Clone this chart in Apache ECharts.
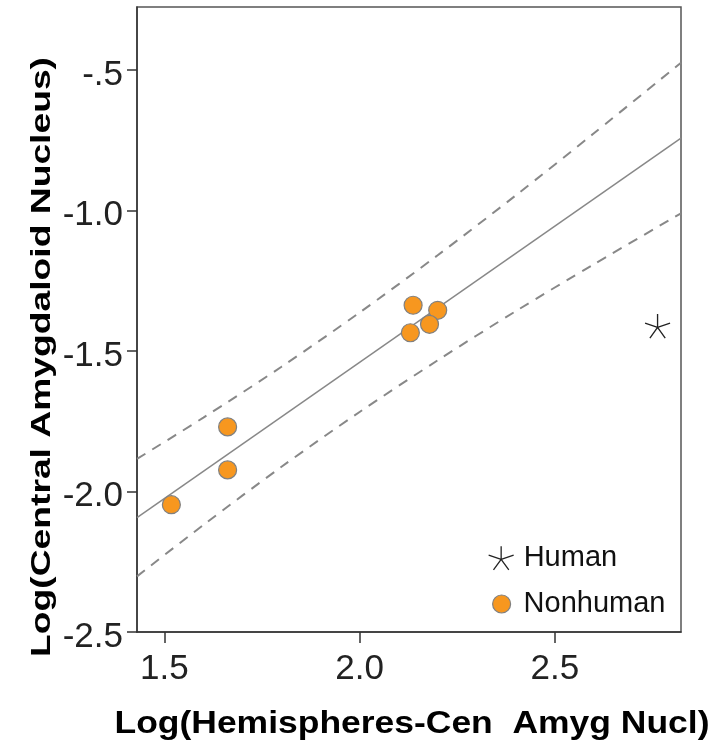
<!DOCTYPE html>
<html>
<head>
<meta charset="utf-8">
<script src="https://cdn.jsdelivr.net/npm/echarts@6/dist/echarts.min.js"></script>
<style>
  html, body { margin: 0; padding: 0; background: #fff; }
  #chart { width: 716px; height: 751px; }
</style>
</head>
<body>
<div id="chart"></div>
<script>
// Species data (log volumes)
const nonhumanX = [1.518, 1.662, 1.662, 2.137, 2.200, 2.179, 2.130];
const nonhumanY = [-2.047, -1.770, -1.923, -1.337, -1.355, -1.405, -1.435];
const humanX = [2.763];
const humanY = [-1.411];

// Regression line fitted on nonhuman species
const fitX = [1.43, 2.823];
const fitY = [-2.093, -0.742];

// Prediction interval bounds
const bandX = [1.43, 1.6, 1.8, 2.0, 2.2, 2.4, 2.6, 2.823];
const upperY = [-1.884, -1.737, -1.556, -1.363, -1.159, -0.946, -0.725, -0.474];
const lowerY = [-2.302, -2.119, -1.912, -1.717, -1.533, -1.358, -1.191, -1.010];

// Axis ticks
const xTickValues = [1.5, 2.0, 2.5];
const xTickLabels = ['1.5', '2.0', '2.5'];
const yTickValues = [-2.5, -2.0, -1.5, -1.0, -0.5];
const yTickLabels = ['-2.5', '-2.0', '-1.5', '-1.0', '-.5'];

const FONT = '"Liberation Sans", Arial, sans-serif';
const STAR = 'path://M0,-13 L0,0 M0,0 L12.4,-4 M0,0 L7.6,10.5 M0,0 L-7.6,10.5 M0,0 L-12.4,-4';
const ORANGE = '#F7971F';

const zip = (xs, ys) => xs.map((x, i) => [x, ys[i]]);
const labelFor = (vals, labels) => v => {
  const i = vals.findIndex(t => Math.abs(t - v) < 1e-6);
  return i >= 0 ? labels[i] : '';
};

const chart = echarts.init(document.getElementById('chart'), null, { renderer: 'canvas' });

chart.setOption({
  animation: false,
  backgroundColor: '#fff',
  grid: {
    left: 137, right: 35, top: 7, bottom: 119,
    show: true, borderColor: '#555', borderWidth: 1.5, backgroundColor: 'transparent'
  },
  xAxis: {
    type: 'value', min: 1.43, max: 2.823,
    axisLine: { onZero: false, lineStyle: { color: '#333', width: 1.5 } },
    axisTick: { customValues: xTickValues, length: 11, lineStyle: { color: '#333', width: 1.5 } },
    axisLabel: {
      customValues: xTickValues, formatter: labelFor(xTickValues, xTickLabels),
      fontFamily: FONT, fontSize: 35, color: '#222', margin: 20
    },
    splitLine: { show: false }
  },
  yAxis: {
    type: 'value', min: -2.5, max: -0.2756,
    axisLine: { onZero: false, lineStyle: { color: '#333', width: 1.5 } },
    axisTick: { customValues: yTickValues, length: 10, lineStyle: { color: '#333', width: 1.5 } },
    axisLabel: {
      customValues: yTickValues,
      formatter: v => '{t|' + labelFor(yTickValues, yTickLabels)(v) + '}',
      margin: 14,
      rich: {
        t: { fontFamily: FONT, fontSize: 35, color: '#222', lineHeight: 35, padding: [10, 0, 0, 0] }
      }
    },
    splitLine: { show: false }
  },
  legend: [
    {
      data: [{ name: 'Human', icon: STAR,
        itemStyle: { color: 'transparent', borderColor: '#222', borderWidth: 1.3 } }],
      left: 483, top: 538, itemWidth: 25, itemHeight: 24,
      textStyle: { fontFamily: FONT, fontSize: 29, color: '#111', lineHeight: 30, padding: [0, 0, 0, 5] },
      selectedMode: false
    },
    {
      data: [{ name: 'Nonhuman', icon: 'circle',
        itemStyle: { color: ORANGE, borderColor: '#808080', borderWidth: 1.2 } }],
      left: 487, top: 584, itemWidth: 18, itemHeight: 18,
      textStyle: { fontFamily: FONT, fontSize: 29, color: '#111', lineHeight: 30, padding: [0, 0, 0, 8] },
      selectedMode: false
    }
  ],
  graphic: [
    {
      type: 'text', x: 412, y: 724, scaleX: 1.108, silent: true,
      style: {
        text: 'Log(Hemispheres-Cen  Amyg Nucl)',
        font: 'bold 32px ' + FONT, fill: '#000',
        textAlign: 'center', textVerticalAlign: 'middle'
      }
    },
    {
      type: 'text', x: 42, y: 357, rotation: Math.PI / 2, scaleX: 1.33, silent: true,
      style: {
        text: 'Log(Central Amygdaloid Nucleus)',
        font: 'bold 28px ' + FONT, fill: '#000',
        textAlign: 'center', textVerticalAlign: 'middle'
      }
    }
  ],
  series: [
    {
      name: 'Fit', type: 'line', data: zip(fitX, fitY), showSymbol: false, silent: true,
      lineStyle: { color: '#888', width: 1.5 }, z: 1
    },
    {
      name: 'Upper', type: 'line', data: zip(bandX, upperY), showSymbol: false, silent: true,
      smooth: 0.3, lineStyle: { color: '#888', width: 2, type: [10, 8] }, z: 1
    },
    {
      name: 'Lower', type: 'line', data: zip(bandX, lowerY), showSymbol: false, silent: true,
      smooth: 0.3, lineStyle: { color: '#888', width: 2, type: [10, 8] }, z: 1
    },
    {
      name: 'Nonhuman', type: 'scatter', data: zip(nonhumanX, nonhumanY),
      symbol: 'circle', symbolSize: 18,
      itemStyle: { color: ORANGE, borderColor: '#808080', borderWidth: 1.2, opacity: 1 }, z: 3
    },
    {
      name: 'Human', type: 'scatter', data: zip(humanX, humanY),
      symbol: STAR, symbolSize: [25, 24],
      itemStyle: { color: 'transparent', borderColor: '#222', borderWidth: 1.3, opacity: 1 }, z: 3
    }
  ]
});
</script>
</body>
</html>
